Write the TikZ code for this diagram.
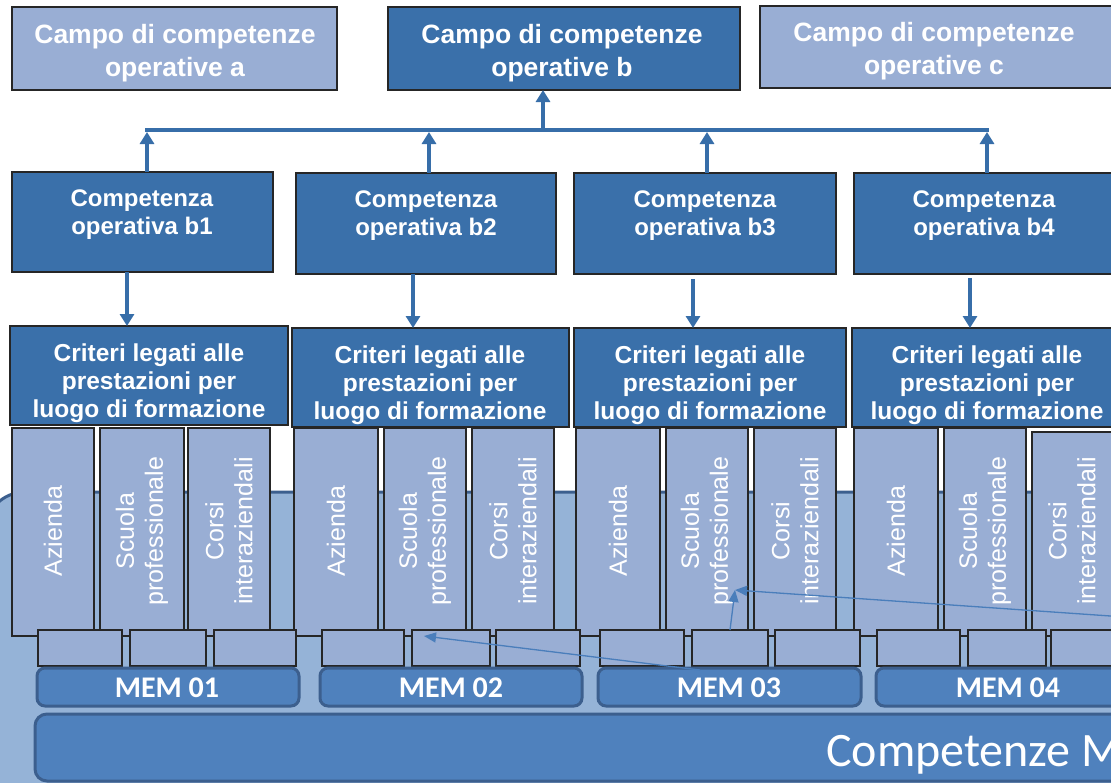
\documentclass[tikz,border=0pt]{standalone}
\usepackage{fontspec}
\setmainfont{Liberation Sans}
\newfontfamily\calibri{Carlito}
\usetikzlibrary{arrows.meta,fit}
\definecolor{dkbox}{HTML}{3A70AA}
\definecolor{ltbox}{HTML}{99AED4}
\definecolor{bgblue}{HTML}{95B3D7}
\definecolor{bgline}{HTML}{3C5F8E}
\definecolor{membar}{HTML}{4F81BD}
\definecolor{arr}{HTML}{376EA9}
\definecolor{thinarr}{HTML}{4A7EBB}
\definecolor{edge}{HTML}{262626}
\begin{document}
\begin{tikzpicture}[x=1pt,y=-1pt,
  boxbase/.style={draw=edge, line width=1.3pt, inner sep=0pt, outer sep=0pt},
  darkbox/.style={boxbase, fill=dkbox},
  lightbox/.style={boxbase, fill=ltbox},
  membox/.style={draw=bgline, line width=3pt, fill=membar, rounded corners=8pt, inner sep=0pt, outer sep=0pt},
  campotext/.style={text=white, align=center, font=\bfseries\fontsize{26.5}{33}\selectfont},
  comptext/.style={text=white, align=center, font=\bfseries\fontsize{24}{28}\selectfont},
  crittext/.style={text=white, align=center, font=\bfseries\fontsize{24.5}{28}\selectfont},
  coltext/.style={text=white, align=center, rotate=90, font=\fontsize{25}{29}\selectfont},
  memtext/.style={text=white, font=\calibri\bfseries\fontsize{30}{34}\selectfont},
  bigarr/.style={draw=arr, line width=3.5pt, -{Triangle[width=14pt,length=12pt]}},
  busline/.style={draw=arr, line width=3.5pt},
  thinarrow/.style={draw=thinarr, line width=1.3pt, -{Triangle[width=10pt,length=12pt]}, fill=thinarr}
]
\useasboundingbox (0,0) rectangle (1111,782);
\clip (0,0) rectangle (1111,782);
\fill[white] (0,0) rectangle (1111,782);

% background region
\draw[draw=bgline, line width=3pt, fill=bgblue, rounded corners=40pt] (-15,492) rectangle (1150,810);

% columns
\foreach \n/\xa/\xb/\ya in {
  a1/12/94/428, s1/100/184/428, c1/188/270/428,
  a2/294/378/428, s2/384/466/428, c2/472/554/428,
  a3/576/660/428, s3/666/748/428, c3/754/836/428,
  a4/854/938/428, s4/944/1026/428, c4/1032/1130/432}{
  \node[lightbox, fit={(\xa,\ya) (\xb,636)}] (col\n) {};
}
\foreach \n/\cx/\txt in {
  a1/53/Azienda, s1/142/{Scuola\\professionale}, c1/229/{Corsi\\interaziendali},
  a2/336/Azienda, s2/425/{Scuola\\professionale}, c2/513/{Corsi\\interaziendali},
  a3/618/Azienda, s3/707/{Scuola\\professionale}, c3/795/{Corsi\\interaziendali},
  a4/896/Azienda, s4/985/{Scuola\\professionale}, c4/1072/{Corsi\\interaziendali}}{
  \node[coltext] (t\n) at (\cx,531) {\txt};
}

% small boxes
\foreach \n/\xa/\xb in {
  11/38/122, 12/130/206, 13/214/296,
  21/322/404, 22/412/490, 23/496/580,
  31/600/684, 32/692/768, 33/775/860,
  41/877/960, 42/968/1046, 43/1051/1130}{
  \node[lightbox, fit={(\xa,630) (\xb,666)}] (sb\n) {};
}

% MEM bars
\foreach \n/\xa/\xb in {1/37/299, 2/320/582, 3/598/861, 4/876/1150}{
  \node[membox, fit={(\xa,668) (\xb,706)}] (mem\n) {};
}
\node[memtext] (memt1) at (167,688) {MEM 01};
\node[memtext] (memt2) at (451,688) {MEM 02};
\node[memtext] (memt3) at (729,688) {MEM 03};
\node[memtext] (memt4) at (1008,688) {MEM 04};

% Competenze bar
\node[membox, rounded corners=12pt, fit={(35,714) (1160,781)}] (compbar) {};
\node[text=white, anchor=base west, inner sep=0pt, font=\calibri\fontsize{48}{54}\selectfont] (comptxt) at (826,766) {Competenze M};

% top boxes
\node[lightbox, fit={(12,7) (337,90)}] (ca) {};
\node[darkbox, fit={(388,7) (740,90)}] (cb) {};
\node[lightbox, fit={(760,6) (1130,88)}] (cc) {};
\node[campotext] at (175,53) {Campo di competenze\\operative a};
\node[campotext] at (562,53) {Campo di competenze\\operative b};
\node[campotext] at (934,51) {Campo di competenze\\operative c};

% competenza boxes
\node[darkbox, fit={(12,172) (273,272)}] (b1) {};
\node[darkbox, fit={(296,173) (556,274)}] (b2) {};
\node[darkbox, fit={(574,173) (836,274)}] (b3) {};
\node[darkbox, fit={(854,173) (1130,274)}] (b4) {};
\node[comptext] at (142,215) {Competenza\\operativa b1};
\node[comptext] at (426,216) {Competenza\\operativa b2};
\node[comptext] at (705,216) {Competenza\\operativa b3};
\node[comptext] at (984,216) {Competenza\\operativa b4};

% criteri boxes
\node[darkbox, fit={(10,326) (288,425)}] (cr1) {};
\node[darkbox, fit={(292,328) (569,427)}] (cr2) {};
\node[darkbox, fit={(574,328) (846,427)}] (cr3) {};
\node[darkbox, fit={(852,328) (1130,427)}] (cr4) {};
\foreach \cx/\cy in {149/383, 430/385, 710/385, 987/385}{
  \node[crittext] at (\cx,\cy) {Criteri legati alle\\prestazioni per\\luogo di formazione};
}

% bus connectors
\coordinate (bus1) at (147,130);
\coordinate (bus2) at (429,130);
\coordinate (bus3) at (707,130);
\coordinate (bus4) at (987,130);
\coordinate (busb) at (543,130);
\draw[busline] ([xshift=-1.75pt]bus1) -- ([xshift=1.75pt]bus4);
\draw[bigarr] (b1.north -| bus1) -- ([yshift=-2pt]bus1);
\draw[bigarr] (b2.north -| bus2) -- ([yshift=-2pt]bus2);
\draw[bigarr] (b3.north -| bus3) -- ([yshift=-2pt]bus3);
\draw[bigarr] (b4.north -| bus4) -- ([yshift=-2pt]bus4);
\draw[bigarr] ([yshift=1.75pt]busb) -- (cb.south -| busb);

% down arrows
\coordinate (d1) at (127,0);
\coordinate (d2) at (413,0);
\coordinate (d3) at (693,0);
\coordinate (d4) at (970,0);
\draw[bigarr] (b1.south -| d1) -- (cr1.north -| d1);
\draw[bigarr] (b2.south -| d2) -- (cr2.north -| d2);
\draw[bigarr] ([yshift=-5pt]b3.south -| d3) -- (cr3.north -| d3);
\draw[bigarr] ([yshift=-4pt]b4.south -| d4) -- (cr4.north -| d4);

% thin arrows
\coordinate (p1) at (1125,617);
\coordinate (q1) at (735,590);
\coordinate (p2) at (730,630);
\coordinate (p3) at (700,670);
\coordinate (q3) at (424,636);
\draw[thinarrow] (p1) -- (q1);
\draw[thinarrow] (p2) -- (q1);
\draw[thinarrow] (p3) -- (q3);
\end{tikzpicture}
\end{document}
